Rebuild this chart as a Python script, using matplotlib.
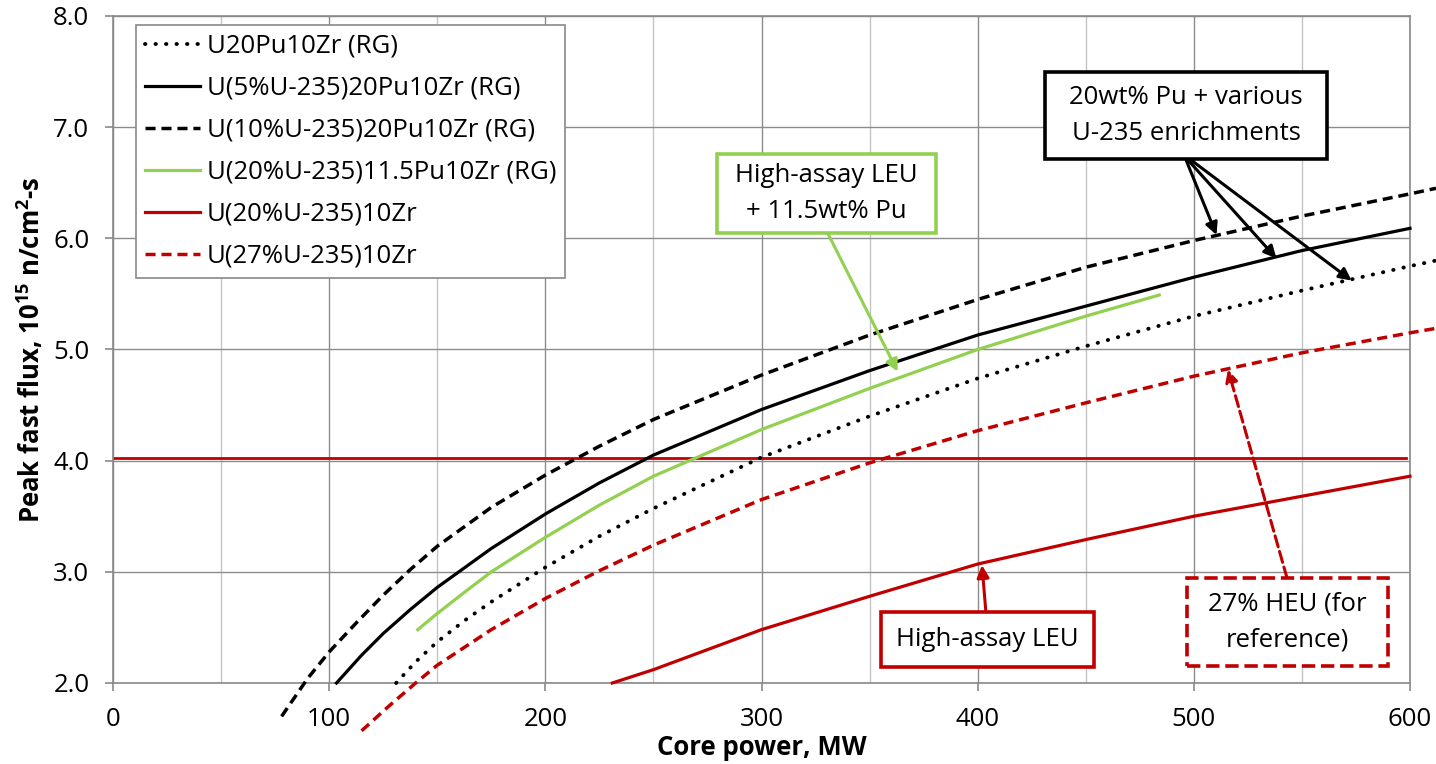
import matplotlib
matplotlib.use("Agg")
import matplotlib.pyplot as plt
from matplotlib.patches import Rectangle
from matplotlib.ticker import MultipleLocator

plt.rcParams['font.family'] = ['Open Sans', 'DejaVu Sans']
plt.rcParams['mathtext.fontset'] = 'custom'
plt.rcParams['mathtext.rm'] = 'Open Sans'
plt.rcParams['mathtext.bf'] = 'Open Sans:bold'

# values (core power MW -> peak fast flux 1e15 n/cm2-s)
power_u20pu = [131, 140, 150, 162.5, 175, 200, 225, 250, 300, 350, 400, 450, 500, 550, 600, 612]
flux_u20pu = [2.00, 2.19, 2.37, 2.56, 2.73, 3.04, 3.32, 3.57, 4.03, 4.40, 4.74, 5.03, 5.30, 5.53, 5.75, 5.80]

power_5pct = [103.4, 115, 125, 137.5, 150, 175, 200, 225, 250, 300, 350, 400, 450, 500, 550, 600]
flux_5pct = [2.00, 2.25, 2.445, 2.66, 2.86, 3.21, 3.52, 3.80, 4.05, 4.46, 4.81, 5.13, 5.39, 5.65, 5.89, 6.09]

power_10pct = [78, 90, 100, 112.5, 125, 137.5, 150, 175, 200, 225, 250, 300, 350, 400, 450, 500, 550, 600, 612]
flux_10pct = [1.70, 2.04, 2.28, 2.54, 2.79, 3.02, 3.23, 3.58, 3.87, 4.13, 4.37, 4.77, 5.13, 5.45, 5.74, 5.98, 6.20, 6.40, 6.45]

power_haleu_pu = [141, 150, 162.5, 175, 200, 225, 250, 300, 350, 400, 450, 484]
flux_haleu_pu = [2.48, 2.625, 2.815, 3.00, 3.31, 3.60, 3.86, 4.28, 4.65, 5.00, 5.30, 5.49]

power_haleu = [231, 250, 300, 350, 400, 450, 500, 550, 600]
flux_haleu = [2.00, 2.12, 2.48, 2.78, 3.07, 3.29, 3.50, 3.68, 3.86]

power_heu = [115, 127.5, 140, 150, 175, 200, 225, 250, 300, 350, 400, 450, 500, 550, 600, 612]
flux_heu = [1.57, 1.79, 2.00, 2.16, 2.48, 2.76, 3.01, 3.24, 3.65, 3.98, 4.27, 4.52, 4.76, 4.97, 5.15, 5.19]

target_power = [0, 598]
target_flux = [4.02, 4.02]

labels = ["U20Pu10Zr (RG)", "U(5%U-235)20Pu10Zr (RG)", "U(10%U-235)20Pu10Zr (RG)",
          "U(20%U-235)11.5Pu10Zr (RG)", "U(20%U-235)10Zr", "U(27%U-235)10Zr"]

GREEN = '#92D050'
RED = '#C00000'
GRID = '#8C8C8C'
FS = 18.5

fig = plt.figure(figsize=(14.36, 7.64), dpi=100)
ax = fig.add_axes([113/1436, 81/764, 1297/1436, 667/764])

dot = (0, (0.1, 2.6))
dash = (0, (2.9, 1.7))
ax.plot(power_u20pu, flux_u20pu, color='black', lw=2.8, ls=dot, dash_capstyle='round', clip_on=False, label=labels[0], zorder=3)
ax.plot(power_5pct, flux_5pct, color='black', lw=2.3, clip_on=False, label=labels[1], zorder=3)
ax.plot(power_10pct, flux_10pct, color='black', lw=2.5, ls=dash, clip_on=False, label=labels[2], zorder=3)
ax.plot(power_haleu_pu, flux_haleu_pu, color=GREEN, lw=2.3, clip_on=False, label=labels[3], zorder=3)
ax.plot(power_haleu, flux_haleu, color=RED, lw=2.3, clip_on=False, label=labels[4], zorder=3)
ax.plot(power_heu, flux_heu, color=RED, lw=2.5, ls=dash, clip_on=False, label=labels[5], zorder=3)
ax.plot(target_power, target_flux, color=RED, lw=2.0, zorder=2)

ax.set_xlim(0, 600)
ax.set_ylim(2, 8)
ax.xaxis.set_major_locator(MultipleLocator(100))
ax.xaxis.set_minor_locator(MultipleLocator(50))
ax.yaxis.set_major_locator(MultipleLocator(1))
ax.yaxis.set_major_formatter(lambda v, p: f"{v:.1f}")
ax.grid(which='major', color=GRID, lw=1.0)
ax.grid(which='minor', axis='x', color='#C4C4C4', lw=1.0)
ax.set_axisbelow(True)
for s in ax.spines.values():
    s.set_color('#898989')
    s.set_linewidth(1.2)
ax.tick_params(which='major', direction='out', length=6, width=1.2, color='#898989', labelsize=FS, pad=11)
ax.tick_params(which='minor', length=0)

ax.set_xlabel('Core power, MW', fontsize=FS, fontweight='bold', labelpad=2)
ax.set_ylabel(r'Peak fast flux, 10$^{\mathbf{15}}$ n/cm$^{\mathbf{2}}$-s', fontsize=FS, fontweight='bold', labelpad=5)

leg = ax.legend(loc='upper left', bbox_to_anchor=(0.0177, 0.9865), borderaxespad=0, fontsize=FS,
                fancybox=False, framealpha=1, edgecolor='#898989', handlelength=2.15,
                handletextpad=0.25, labelspacing=0.66, borderpad=0.35)
leg.get_frame().set_linewidth(1.2)
leg.set_zorder(6)


def box(x0, y0, x1, y1, text, color, ls='-'):
    ax.add_patch(Rectangle((x0, y0), x1 - x0, y1 - y0, fc='white', ec=color, lw=2.6, ls=ls,
                           clip_on=False, zorder=5))
    ax.text((x0 + x1) / 2, (y0 + y1) / 2, text, ha='center', va='center', fontsize=FS,
            linespacing=1.6, zorder=6)


def arrow(start, tip, color, ls='-'):
    ax.annotate('', xy=tip, xytext=start, zorder=4, annotation_clip=False,
                arrowprops=dict(arrowstyle='-|>', color=color, lw=2.2, ls=ls,
                                mutation_scale=18, shrinkA=0, shrinkB=0))


# 20wt% Pu box and arrows
arrow((496.5, 6.70), (510.5, 6.03), 'black')
arrow((497.5, 6.70), (538.2, 5.82), 'black')
arrow((499.0, 6.70), (573.0, 5.62), 'black')
box(431.1, 6.714, 561.6, 7.496, '20wt% Pu + various\nU-235 enrichments', 'black')

# high-assay LEU + Pu
arrow((330.8, 6.04), (363.0, 4.80), GREEN)
box(279.4, 6.048, 380.7, 6.759, 'High-assay LEU\n+ 11.5wt% Pu', GREEN)

# high-assay LEU
arrow((403.8, 2.64), (402.0, 3.06), RED)
box(355.3, 2.144, 453.8, 2.639, 'High-assay LEU', RED)

# 27% HEU
arrow((543.1, 2.945), (515.8, 4.82), RED, ls='--')
box(496.8, 2.153, 589.8, 2.945, '27% HEU (for\nreference)', RED, ls='--')

fig.savefig('out.png', dpi=100)
